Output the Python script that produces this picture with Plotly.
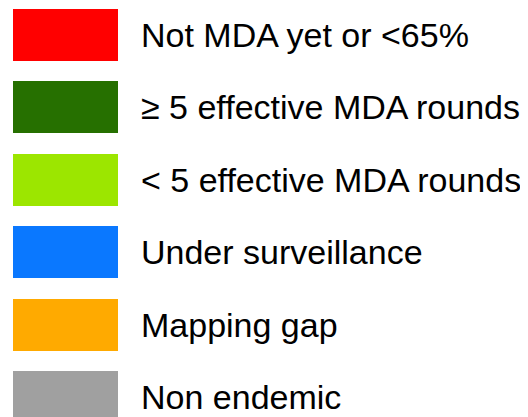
import plotly.graph_objects as go

categories = ["Not MDA yet or <65%", "≥ 5 effective MDA rounds", "< 5 effective MDA rounds",
              "Under surveillance", "Mapping gap", "Non endemic"]
colors = ["#FF0000", "#267000", "#9CE600", "#0A78FF", "#FFAA00", "#A0A0A0"]
rows = list(range(len(categories)))

step = 72.4   # pixels per row
top = 35      # pixel centre of first row
off = 8       # page body margin

fig = go.Figure()
fig.add_trace(go.Bar(
    y=rows, x=[105] * len(rows), base=[13] * len(rows), orientation="h",
    width=52 / step, marker=dict(color=colors, line=dict(width=0)),
    hoverinfo="skip", showlegend=False,
))
for r, label in zip(rows, categories):
    fig.add_annotation(x=139, y=r, xref="x", yref="y", text=label, showarrow=False,
                       xanchor="left", yanchor="middle",
                       font=dict(family="Liberation Sans, Arial, sans-serif", size=34, color="#000000"))

fig.update_layout(
    width=528 - off, height=417 - off, margin=dict(l=0, r=0, t=0, b=0),
    paper_bgcolor="white", plot_bgcolor="white",
    xaxis=dict(range=[off, 528], visible=False, fixedrange=True),
    yaxis=dict(range=[(417 - top) / step, (off - top) / step], visible=False, fixedrange=True),
    bargap=0,
)
fig.write_html("out.html")
